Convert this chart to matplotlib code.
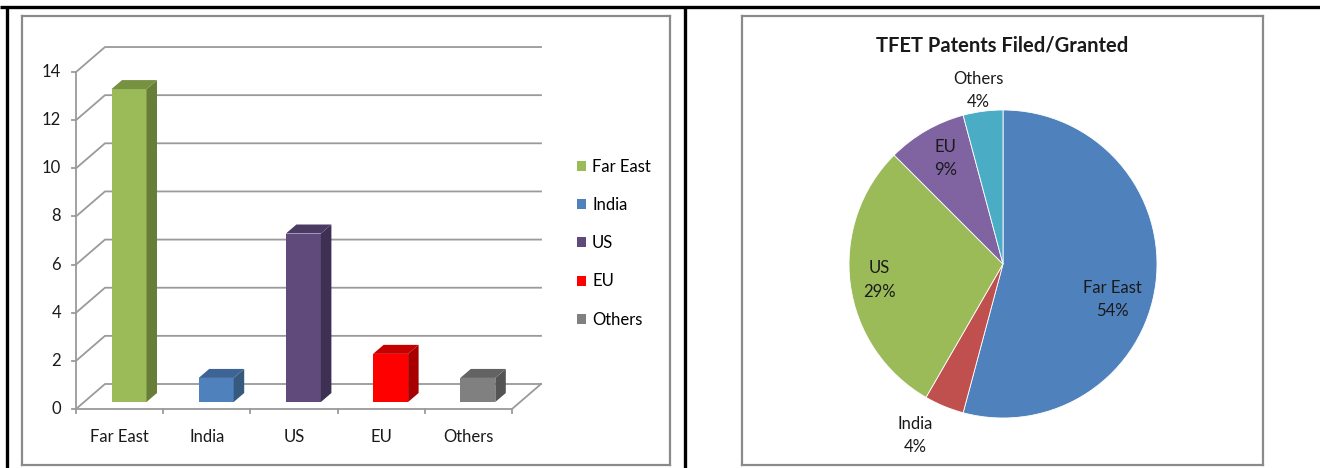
import matplotlib
matplotlib.use("Agg")
import matplotlib.pyplot as plt
from matplotlib.patches import Polygon, Patch
import numpy as np

# ---------------- data ----------------
categories = ["Far East", "India", "US", "EU", "Others"]
patents = [13, 1, 7, 2, 1]
yticks = [0, 2, 4, 6, 8, 10, 12, 14]
pie_pct_labels = ["54%", "4%", "29%", "9%", "4%"]
pie_title = "TFET Patents Filed/Granted"

bar_front = ["#9BBB59", "#4F81BD", "#604A7B", "#FF0000", "#808080"]
bar_side = ["#677E38", "#36597F", "#3E3052", "#A80000", "#545454"]
bar_top = ["#76913F", "#3D6494", "#4B3A63", "#C40000", "#636363"]
pie_colors = ["#4F81BD", "#C0504D", "#9BBB59", "#8064A2", "#4BACC6"]

FONT = ["Lato", "DejaVu Sans"]
plt.rcParams["font.family"] = FONT
FS = 12

W, H = 1320, 468
fig = plt.figure(figsize=(W / 100, H / 100), dpi=100)
fig.patch.set_facecolor("white")

def fx(px):
    return px / W

def fy(py):
    return 1 - py / H

# ---------------- outer black frame ----------------
frame = fig.add_axes([0, 0, 1, 1], zorder=-5)
frame.set_xlim(0, W)
frame.set_ylim(H, 0)
frame.axis("off")
frame.plot([0, W], [7, 7], color="black", lw=2.4, solid_capstyle="butt")
frame.plot([7, 7], [7, H], color="black", lw=2.4, solid_capstyle="butt")
frame.plot([685, 685], [7, H], color="black", lw=2.4, solid_capstyle="butt")

# ---------------- left: pseudo-3D bar chart ----------------
L, R, T, B = 22, 670, 16, 465
ax = fig.add_axes([fx(L), fy(B), fx(R - L), (B - T) / H])
cw, vh = 87.2, 24.07
ax.set_xlim((L - 76) / cw, (R - 76) / cw)
ax.set_ylim((409 - B) / vh, (409 - T) / vh)
ax.set_xticks([])
ax.set_yticks([])
for s in ax.spines.values():
    s.set_color("#8A8A8A")
    s.set_linewidth(1.6)

n = len(categories)
DXB, DYB = 29 / cw, 25 / vh          # back wall depth
FXo, FYo = 9.4 / cw, 7 / vh          # bar front face depth
SX, SY = 10.5 / cw, 9 / vh           # bar own depth
BW = 35 / cw
gcol = "#9A9A9A"
glw = 1.3

for v in yticks:
    ax.plot([0, DXB, n + DXB], [v, v + DYB, v + DYB], color=gcol, lw=glw, zorder=1)
    ax.plot([-4 / cw, 0], [v, v], color=gcol, lw=glw, zorder=1)
    ax.text(-15 / cw, v, str(v), ha="right", va="center", fontsize=FS, color="#1a1a1a")
ax.plot([0, 0], [0, yticks[-1]], color=gcol, lw=glw, zorder=1)
ax.plot([0, n, n + DXB], [0, 0, DYB], color=gcol, lw=glw, zorder=1)
for i in range(n + 1):
    ax.plot([i, i], [0, -4 / vh], color=gcol, lw=glw, zorder=1)

for i, (cat, val) in enumerate(zip(categories, patents)):
    x0 = i + 0.5 + FXo - BW / 2
    ax.bar(x0, val, width=BW, bottom=FYo, align="edge", color=bar_front[i],
           edgecolor="none", zorder=3)
    x1 = x0 + BW
    side = Polygon([(x1, FYo), (x1 + SX, FYo + SY), (x1 + SX, FYo + SY + val), (x1, FYo + val)],
                   closed=True, facecolor=bar_side[i], edgecolor="none", zorder=3)
    top = Polygon([(x0, FYo + val), (x1, FYo + val), (x1 + SX, FYo + SY + val), (x0 + SX, FYo + SY + val)],
                  closed=True, facecolor=bar_top[i], edgecolor="none", zorder=3)
    ax.add_patch(side)
    ax.add_patch(top)
    ax.text(i + 0.5, -28 / vh, cat, ha="center", va="center", fontsize=FS, color="#1a1a1a")

handles = [Patch(facecolor=c, edgecolor="none") for c in bar_front]
fig.legend(handles, categories, loc="upper left", bbox_to_anchor=(fx(577), fy(159)),
           frameon=False, fontsize=FS, handlelength=0.55, handleheight=0.55,
           handletextpad=0.35, labelspacing=1.33, borderpad=0, borderaxespad=0)

# ---------------- right: pie chart ----------------
pbox = fig.add_axes([fx(742), fy(465), fx(1263 - 742), (465 - 16) / H], zorder=-1)
pbox.set_xticks([])
pbox.set_yticks([])
for s in pbox.spines.values():
    s.set_color("#8A8A8A")
    s.set_linewidth(1.6)
pbox.text(0.5, (465 - 46) / (465 - 16), pie_title, transform=pbox.transAxes,
          ha="center", va="center", fontsize=14.5, fontweight="bold", color="#1a1a1a")

cx, cy, rr = 1003, 264, 154
pax = fig.add_axes([fx(cx - rr), fy(cy + rr), fx(2 * rr), 2 * rr / H])
wedges, _ = pax.pie(patents, colors=pie_colors, startangle=90, counterclock=False,
                    wedgeprops=dict(edgecolor="white", linewidth=0.6))
pax.set_xlim(-1, 1)
pax.set_ylim(-1, 1)
pax.set_aspect("equal")

label_r = [0.75, 1.25, 0.81, 0.78, 1.14]
label_ang = [-18, -117, -172.6, 118.7, 98]
for i, (cat, pct) in enumerate(zip(categories, pie_pct_labels)):
    a = np.deg2rad(label_ang[i])
    pax.text(label_r[i] * np.cos(a), label_r[i] * np.sin(a), f"{cat}\n{pct}",
             ha="center", va="center", fontsize=FS, color="#1a1a1a", linespacing=1.55)

fig.savefig("out.png", dpi=100)
